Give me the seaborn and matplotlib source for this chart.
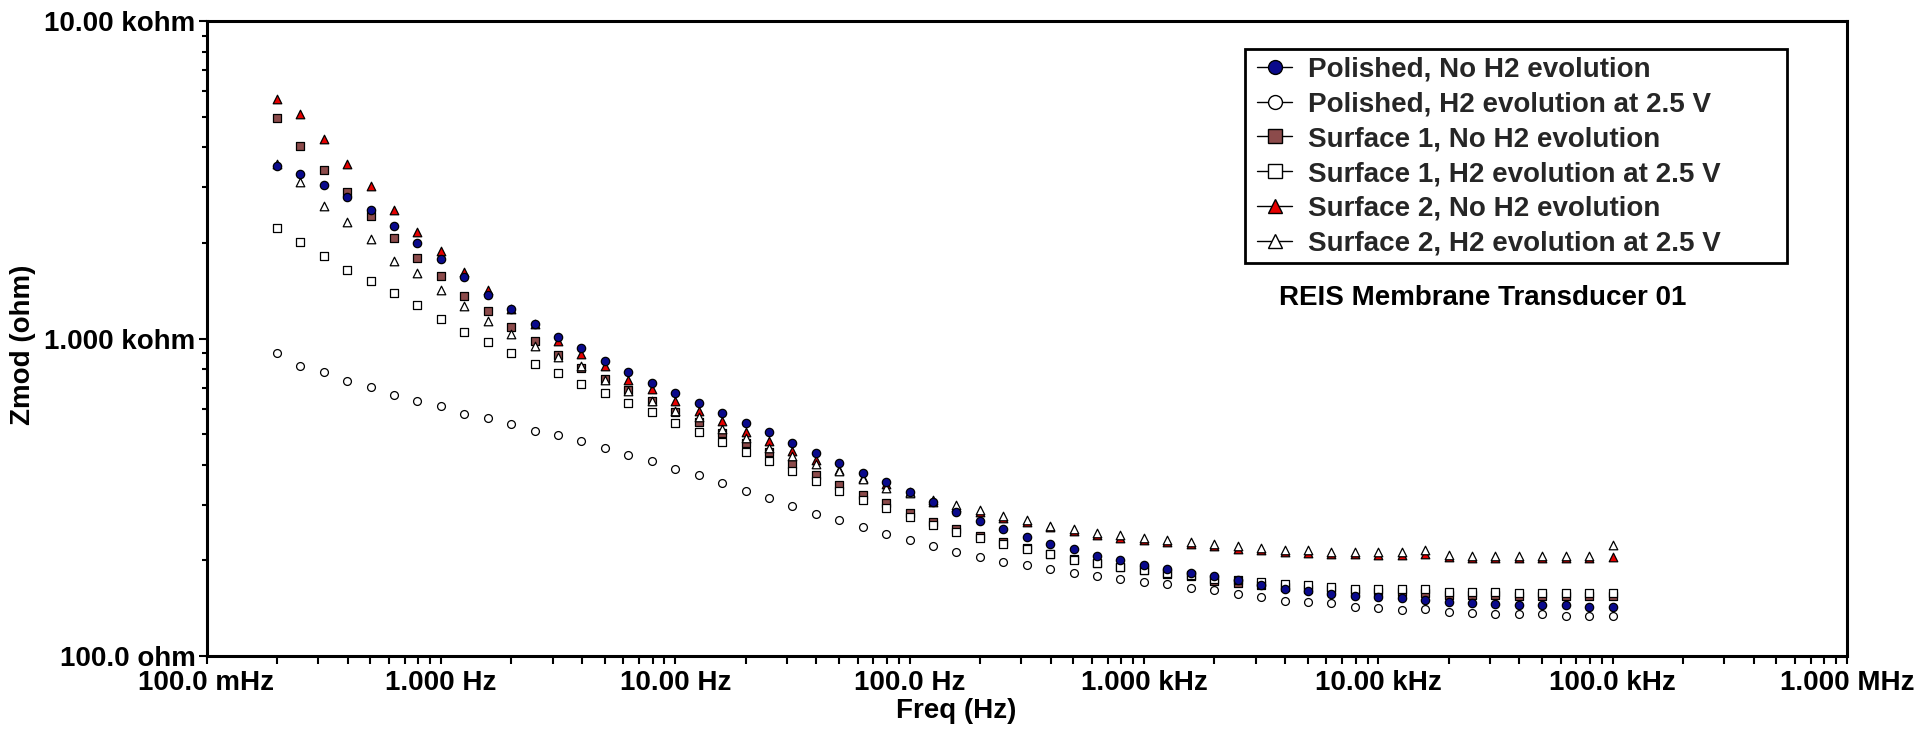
import matplotlib
matplotlib.use("Agg")
import matplotlib.pyplot as plt
import seaborn as sns
from matplotlib.lines import Line2D
from matplotlib.patches import Rectangle
from matplotlib.ticker import FixedLocator, FixedFormatter, LogLocator, NullFormatter

# ---------------- data ----------------
freq_hz = [0.1995, 0.2512, 0.3162, 0.3981, 0.5012, 0.631, 0.7943,
           1.0, 1.259, 1.585, 1.995, 2.512, 3.162, 3.981, 5.012, 6.31, 7.943,
           10.0, 12.59, 15.85, 19.95, 25.12, 31.62, 39.81, 50.12, 63.1, 79.43,
           100.0, 125.9, 158.5, 199.5, 251.2, 316.2, 398.1, 501.2, 631.0, 794.3,
           1000.0, 1259, 1585, 1995, 2512, 3162, 3981, 5012, 6310, 7943,
           10000, 12589, 15849, 19953, 25119, 31623, 39811, 50119, 63096, 79433,
           100000]

polished_no_h2 = [3487, 3297, 3045, 2784, 2545, 2256, 1994, 1780, 1559, 1374,
                  1239, 1111, 1013, 931, 851, 786, 726, 672, 628, 583,
                  543, 508, 470, 435, 406, 376, 352, 328, 305, 284,
                  266, 251, 237, 226, 217, 207, 201, 193, 188, 183,
                  179, 174, 167, 163, 160, 157, 155, 153, 152, 150,
                  148, 147, 146, 145, 145, 145, 143, 143]
polished_h2 = [898, 821, 785, 733, 702, 662, 636, 613, 580, 561,
               537, 512, 496, 475, 453, 429, 410, 388, 371, 351,
               332, 314, 297, 280, 268, 254, 242, 232, 222, 212,
               205, 198, 193, 188, 183, 178, 175, 171, 168, 164,
               161, 157, 153, 149, 148, 147, 143, 142, 140, 141,
               138, 137, 136, 136, 136, 134, 134, 134]
surface1_no_h2 = [4937, 4031, 3402, 2887, 2437, 2077, 1797, 1574, 1361, 1218,
                  1087, 982, 887, 809, 747, 687, 637, 588, 545, 504,
                  469, 438, 402, 372, 346, 322, 303, 282, 265, 252,
                  239, 228, 219, 210, 202, 196, 190, 186, 181, 178,
                  172, 170, 167, 165, 163, 162, 160, 159, 159, 158,
                  156, 156, 156, 155, 155, 155, 155, 154]
surface1_h2 = [2228, 2013, 1819, 1647, 1521, 1391, 1272, 1152, 1050, 973,
               898, 831, 779, 719, 672, 628, 587, 543, 509, 473,
               439, 410, 383, 355, 332, 311, 292, 275, 259, 245,
               235, 225, 217, 209, 201, 196, 191, 187, 182, 180,
               175, 173, 171, 169, 167, 165, 163, 163, 162, 162,
               159, 159, 159, 158, 158, 158, 158, 158]
surface2_no_h2 = [5680, 5095, 4250, 3553, 3016, 2539, 2170, 1882, 1623, 1425,
                  1239, 1111, 984, 894, 821, 740, 693, 637, 590, 550,
                  509, 475, 442, 414, 386, 364, 348, 328, 305, 295,
                  284, 273, 264, 254, 248, 241, 236, 232, 228, 225,
                  222, 218, 215, 213, 211, 210, 209, 208, 208, 210,
                  205, 204, 204, 204, 203, 203, 203, 205]
surface2_h2 = [3544, 3105, 2609, 2323, 2053, 1759, 1608, 1425, 1269, 1138,
               1033, 949, 873, 817, 742, 685, 637, 590, 565, 519,
               485, 451, 426, 403, 383, 361, 338, 325, 310, 299,
               288, 277, 268, 257, 252, 244, 240, 236, 232, 228,
               226, 222, 219, 216, 215, 213, 213, 212, 212, 215,
               208, 207, 207, 207, 206, 207, 207, 223]

series_labels = ["Polished, No H2 evolution",
                 "Polished, H2 evolution at 2.5 V",
                 "Surface 1, No H2 evolution",
                 "Surface 1, H2 evolution at 2.5 V",
                 "Surface 2, No H2 evolution",
                 "Surface 2, H2 evolution at 2.5 V"]

x_tick_values = [0.1, 1, 10, 100, 1e3, 1e4, 1e5, 1e6]
x_tick_labels = ["100.0 mHz", "1.000 Hz", "10.00 Hz", "100.0 Hz",
                 "1.000 kHz", "10.00 kHz", "100.0 kHz", "1.000 MHz"]
y_tick_values = [100, 1000, 10000]
y_tick_labels = ["100.0 ohm", "1.000 kohm", "10.00 kohm"]

# ---------------- style ----------------
sns.set_theme(style="white")
plt.rcParams["font.family"] = ["Liberation Sans", "DejaVu Sans"]
plt.rcParams["font.weight"] = "bold"

FS = 20
W, H = 1919, 729
fig = plt.figure(figsize=(W / 100, H / 100), dpi=100, facecolor="white")
L, R, T, B = 206.5, 1847, 21, 656
ax = fig.add_axes([L / W, 1 - B / H, (R - L) / W, (B - T) / H])
ax.set_facecolor("white")

blue = "#0a0a8c"
brown = "#8c4b4b"
red = "#e60000"

styles = {
    series_labels[0]: dict(values=polished_no_h2, marker="o", fc=blue, s=36, z=8),
    series_labels[1]: dict(values=polished_h2, marker="o", fc="white", s=32, z=7),
    series_labels[2]: dict(values=surface1_no_h2, marker="s", fc=brown, s=32, z=3),
    series_labels[3]: dict(values=surface1_h2, marker="s", fc="white", s=32, z=4),
    series_labels[4]: dict(values=surface2_no_h2, marker="^", fc=red, s=38, z=5),
    series_labels[5]: dict(values=surface2_h2, marker="^", fc="white", s=38, z=6),
}

for lab in series_labels:
    st = styles[lab]
    sns.scatterplot(x=freq_hz, y=st["values"], marker=st["marker"], color=st["fc"],
                    edgecolor="black", linewidth=0.9, s=st["s"], ax=ax,
                    legend=False, zorder=st["z"])

ax.set_xscale("log")
ax.set_yscale("log")
ax.set_xlim(0.1, 1e6)
ax.set_ylim(100, 10000)

ax.xaxis.set_major_locator(FixedLocator(x_tick_values))
ax.xaxis.set_major_formatter(FixedFormatter(x_tick_labels))
ax.yaxis.set_major_locator(FixedLocator(y_tick_values))
ax.yaxis.set_major_formatter(FixedFormatter(y_tick_labels))
ax.xaxis.set_minor_locator(LogLocator(base=10, subs=range(2, 10), numticks=20))
ax.yaxis.set_minor_locator(LogLocator(base=10, subs=range(2, 10), numticks=20))
ax.xaxis.set_minor_formatter(NullFormatter())
ax.yaxis.set_minor_formatter(NullFormatter())

for sp in ax.spines.values():
    sp.set_color("black")
    sp.set_linewidth(2.2)

ax.tick_params(which="both", direction="out", left=True, bottom=True,
               top=False, right=False, color="black", width=1.5)
ax.tick_params(axis="x", which="both", length=6, pad=4)
ax.tick_params(axis="y", which="major", length=6, pad=2)
ax.tick_params(axis="y", which="minor", length=3.5)
ax.tick_params(labelsize=FS, labelcolor="black")
for t in ax.get_xticklabels() + ax.get_yticklabels():
    t.set_fontweight("bold")

ax.set_xlabel("Freq (Hz)", fontsize=FS, fontweight="bold", color="black")
ax.set_ylabel("Zmod (ohm)", fontsize=FS, fontweight="bold", color="black")
ax.xaxis.set_label_coords(0.457, -0.066)
ax.yaxis.set_label_coords(-0.104, 0.49)

# legend frame (drawn separately to match the original's wide box)
def ax_x(px):
    return (px - L) / (R - L)

def ax_y(py):
    return (B - py) / (B - T)

frame = Rectangle((ax_x(1244.5), ax_y(263)), ax_x(1787) - ax_x(1244.5),
                  ax_y(49) - ax_y(263), transform=ax.transAxes, facecolor="white",
                  edgecolor="black", linewidth=2, zorder=19)
ax.add_patch(frame)

handles = []
for lab in series_labels:
    st = styles[lab]
    handles.append(Line2D([0], [0], color="black", lw=1.0, marker=st["marker"],
                          markerfacecolor=st["fc"], markeredgecolor="black",
                          markeredgewidth=1.0, markersize=10))
leg = ax.legend(handles, series_labels, loc="upper left",
                bbox_to_anchor=(ax_x(1249), ax_y(48)),
                frameon=False, prop={"size": FS, "weight": "bold"},
                handlelength=1.26, handletextpad=0.55, labelspacing=0.32,
                borderpad=0.3, borderaxespad=0)
leg.set_zorder(20)

ax.text(ax_x(1279), ax_y(298), "REIS Membrane Transducer 01", transform=ax.transAxes,
        fontsize=FS, fontweight="bold", va="center", ha="left", color="black")

fig.savefig("out.png", dpi=100, facecolor="white")
